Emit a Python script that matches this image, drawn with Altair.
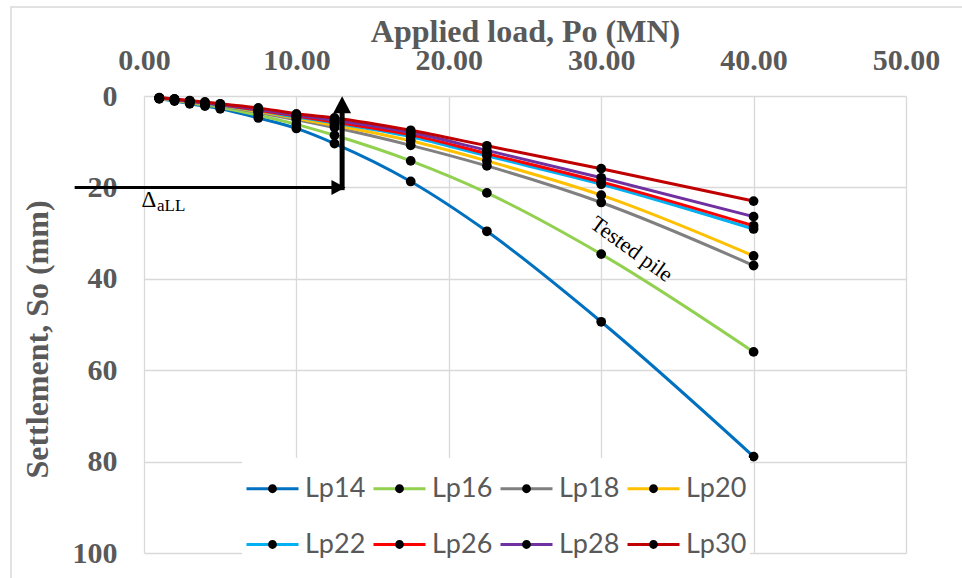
import altair as alt
import pandas as pd

# Applied load steps (MN)
loads = [1, 2, 3, 4, 5, 7.5, 10, 12.5, 17.5, 22.5, 30, 40]

piles = ["Lp14", "Lp16", "Lp18", "Lp20", "Lp22", "Lp26", "Lp28", "Lp30"]
colors = ["#0070C0", "#92D050", "#808080", "#FFC000",
          "#00B0F0", "#FF0000", "#7030A0", "#C00000"]

# Settlement (mm) of each pile at every load step
lp14 = [0.6, 1.1, 1.7, 2.2, 2.8, 4.8, 7.1, 10.4, 18.7, 29.6, 49.4, 78.9]
lp16 = [0.55, 1.0, 1.5, 2.0, 2.5, 4.2, 6.2, 8.6, 14.2, 21.2, 34.6, 56.0]
lp18 = [0.5, 0.9, 1.35, 1.8, 2.2, 3.6, 5.2, 6.9, 10.8, 15.3, 23.3, 37.1]
lp20 = [0.5, 0.85, 1.3, 1.7, 2.1, 3.4, 4.9, 6.4, 9.8, 14.2, 21.7, 35.0]
lp22 = [0.45, 0.8, 1.2, 1.6, 2.0, 3.2, 4.6, 5.9, 8.9, 13.1, 19.3, 29.1]
lp26 = [0.4, 0.75, 1.15, 1.55, 1.9, 3.1, 4.4, 5.7, 8.5, 12.6, 18.8, 28.4]
lp28 = [0.4, 0.7, 1.1, 1.45, 1.8, 2.9, 4.2, 5.3, 8.0, 11.9, 17.9, 26.4]
lp30 = [0.35, 0.65, 1.0, 1.3, 1.7, 2.6, 3.9, 4.8, 7.5, 10.9, 15.9, 23.0]

x_ticks = [0, 10, 20, 30, 40, 50]
y_ticks = [0, 20, 40, 60, 80, 100]

# allowable settlement marker: load 13 MN, settlement 20 mm
arrow_load = 13.0
arrow_settle = 20.0

series = [lp14, lp16, lp18, lp20, lp22, lp26, lp28, lp30]
rows = []
for name, vals in zip(piles, series):
    for p, s in zip(loads, vals):
        rows.append({"load": p, "settle": s, "pile": name, "dot": name})
df = pd.DataFrame(rows)

GRAY = "#595959"
GRID = "#d9d9d9"
SERIF = "Liberation Serif"
SANS = "Lato"

x_scale = alt.Scale(domain=[0, 50], nice=False, zero=False)
y_scale = alt.Scale(domain=[0, 100], nice=False, zero=False, reverse=True)

x_axis = alt.Axis(
    orient="top", values=x_ticks, format=".2f", title="Applied load, Po (MN)",
    labelFont=SERIF, labelFontWeight="bold", labelFontSize=30, labelColor=GRAY,
    labelBaseline="alphabetic", labelPadding=27, labelFlush=False, labelOverlap=False,
    titleFont=SERIF, titleFontWeight="bold", titleFontSize=32, titleColor=GRAY,
    titleBaseline="alphabetic", titleY=-55,
    grid=True, gridColor=GRID, gridWidth=1.3, domain=False, ticks=False,
)
y_axis = alt.Axis(
    values=y_ticks, format="d", title="Settlement, So (mm)",
    labelFont=SERIF, labelFontWeight="bold", labelFontSize=30, labelColor=GRAY,
    labelPadding=27, labelFlush=False, labelOverlap=False,
    titleFont=SERIF, titleFontWeight="bold", titleFontSize=32, titleColor=GRAY,
    titleBaseline="alphabetic", titleX=-97, titleY=243, titleAngle=-90,
    grid=True, gridColor=GRID, gridWidth=1.3, domain=False, ticks=False,
)

legend_common = dict(
    orient="none", legendX=98, legendY=362, direction="horizontal", columns=4,
    title=None, symbolSize=2704, symbolStrokeWidth=3,
    labelFont=SANS, labelFontSize=27, labelOffset=5,
    columnPadding=1, rowPadding=15, padding=3,
)
line_legend = alt.Legend(symbolType="stroke", labelColor=GRAY,
                         fillColor="white", zindex=1, **legend_common)
# second legend on top of the first: only its black markers are visible.
# The symbol path spans the same width as the line so both legends lay out alike.
dot_legend = alt.Legend(
    symbolType="M-1,0L1,0M-0.17,0A0.17,0.17,0,1,1,0.17,0A0.17,0.17,0,1,1,-0.17,0Z",
    symbolStrokeColor="transparent", labelColor=GRAY, labelOpacity=0, zindex=2,
    **legend_common,
)


def xy(xf, yf):
    return dict(
        x=alt.X(xf, scale=x_scale, axis=x_axis),
        y=alt.Y(yf, scale=y_scale, axis=y_axis),
    )


base = alt.Chart(df).encode(**xy("load:Q", "settle:Q"))

lines = base.mark_line(strokeWidth=3, interpolate="monotone").encode(
    color=alt.Color("pile:N", scale=alt.Scale(domain=piles, range=colors),
                    legend=line_legend),
)
# black markers; their fill scale takes its domain from the data
dots = base.mark_point(filled=True, opacity=1, strokeWidth=3).encode(
    fill=alt.Fill("dot:N", scale=alt.Scale(range=["black"] * len(piles)),
                  legend=dot_legend),
)

# Annotation geometry (data units)
h_shaft = pd.DataFrame({"load": [-4.55], "load2": [12.6], "settle": [arrow_settle]})
v_shaft = pd.DataFrame({"load": [arrow_load], "settle": [arrow_settle + 0.6], "settle2": [2.5]})
h_head = pd.DataFrame({"load": [12.76], "settle": [arrow_settle]})
v_head = pd.DataFrame({"load": [arrow_load], "settle": [1.92]})

h_rule = alt.Chart(h_shaft).mark_rule(color="black", strokeWidth=3).encode(
    x2="load2:Q", **xy("load:Q", "settle:Q")
)
v_rule = alt.Chart(v_shaft).mark_rule(color="black", strokeWidth=5).encode(
    y2="settle2:Q", **xy("load:Q", "settle:Q")
)
h_tip = alt.Chart(h_head).mark_point(
    shape="M1,0L-1,-1.07L-1,1.07Z", size=196, filled=True, color="black", opacity=1
).encode(**xy("load:Q", "settle:Q"))
v_tip = alt.Chart(v_head).mark_point(
    shape="M0,-1L-1.05,1L1.05,1Z", size=289, filled=True, color="black", opacity=1
).encode(**xy("load:Q", "settle:Q"))

delta = alt.Chart(pd.DataFrame({"load": [-0.17], "settle": [24.2], "t": ["Δ"]})).mark_text(
    font=SERIF, fontSize=23, align="left", baseline="alphabetic", color="black"
).encode(text="t:N", **xy("load:Q", "settle:Q"))
delta_sub = alt.Chart(pd.DataFrame({"load": [0.85], "settle": [25.1], "t": ["aLL"]})).mark_text(
    font=SERIF, fontSize=17, align="left", baseline="alphabetic", color="black"
).encode(text="t:N", **xy("load:Q", "settle:Q"))
tested = alt.Chart(pd.DataFrame({"load": [32.0], "settle": [33.5], "t": ["Tested pile"]})).mark_text(
    font=SERIF, fontSize=22, align="center", baseline="middle", angle=36, color="black"
).encode(text="t:N", **xy("load:Q", "settle:Q"))

# light frame around the whole chart area
frame = alt.Chart(pd.DataFrame({"a": [0]})).mark_rect(
    fillOpacity=0, stroke=GRID, strokeWidth=1.5
).encode(
    x=alt.value(-133), x2=alt.value(840), y=alt.value(-89), y2=alt.value(520)
)

chart = alt.layer(
    frame, lines, dots, h_rule, v_rule, h_tip, v_tip, delta, delta_sub, tested
).properties(
    width=762, height=457,
    padding={"left": 144, "top": 96, "right": 56, "bottom": 25},
    autosize=alt.AutoSizeParams(type="none"),
    background="white",
).configure_view(stroke=None).configure_point(size=95)

chart.save("out.html", embed_options={"renderer": "svg", "actions": False})
